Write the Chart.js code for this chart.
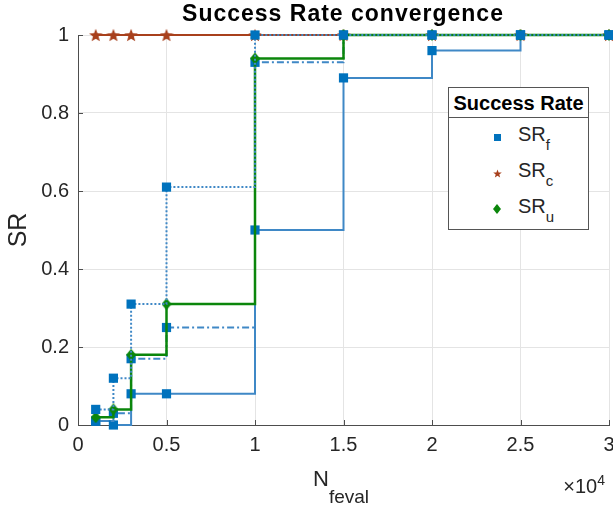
<!DOCTYPE html>
<html>
<head>
<meta charset="utf-8">
<script src="https://cdn.jsdelivr.net/npm/chart.js@4.4.1/dist/chart.umd.min.js"></script>
<style>
  body { margin: 0; background: #fff; }
  #wrap { position: relative; width: 613px; height: 506px; font-family: "Liberation Sans", Arial, sans-serif; color: #262626; }
  #chart { position: absolute; left: 0; top: 0; }
  .txt { position: absolute; white-space: nowrap; line-height: 1; }
  #title { left: 0; width: 686px; top: 2px; text-align: center; font-weight: bold; font-size: 23px; letter-spacing: 1px; color: #000; }
  #xlabel { left: 313px; top: 468px; font-size: 22px; }
  #xlabel sub { font-size: 19px; vertical-align: -17px; }
  #xexp { right: 8px; top: 473px; font-size: 20px; }
  #xexp sup { font-size: 14px; vertical-align: 8px; }
  #legend { position: absolute; left: 448px; top: 87px; width: 141px; height: 143px; box-sizing: border-box; border: 1px solid #555; background: #fff; }
  #legend .head { position: absolute; left: 0; right: 0; top: 0; height: 29px; border-bottom: 1px solid #555; }
  #legend .head span { position: absolute; left: 0; right: 0; top: 5px; text-align: center; font-weight: bold; font-size: 20px; line-height: 20px; color: #000; }
  #legend .mk { position: absolute; }
  #legend .lb { position: absolute; left: 69px; font-size: 20px; line-height: 20px; white-space: nowrap; }
  #legend .lb sub { font-size: 15px; vertical-align: -9px; }
</style>
</head>
<body>
<div id="wrap">
  <canvas id="chart" width="613" height="506"></canvas>
  <div class="txt" id="title">Success Rate convergence</div>
  <div class="txt" id="xlabel">N<sub>feval</sub></div>
  <div class="txt" id="xexp">&times;10<sup>4</sup></div>
  <div id="legend"><div class="head"><span>Success Rate</span></div></div>
</div>
<script>
// function evaluations (x) and success rates
const nFeval = [1000, 2000, 3000, 5000, 10000, 15000, 20000, 25000, 30000];
const srF = [0.01, 0.00, 0.08, 0.08, 0.50, 0.89, 0.96, 1, 1];
const srFDashDot = [0.01, 0.03, 0.17, 0.25, 0.93, 1, 1, 1, 1];
const srFDotted = [0.04, 0.12, 0.31, 0.61, 1, 1, 1, 1, 1];
const srC = [1, 1, 1, 1, 1, 1, 1, 1, 1];
const srU = [0.02, 0.04, 0.18, 0.31, 0.94, 1, 1, 1, 1];
const xTicks = [0, 0.5, 1, 1.5, 2, 2.5, 3]; // in units of 1e4
const yTicks = [0, 0.2, 0.4, 0.6, 0.8, 1];
const legendLabels = [['SR', 'f'], ['SR', 'c'], ['SR', 'u']];

const blue = '#0072bd';
const blueLine = '#3f88c6';
const red = '#a8401c';
const green = '#0b860b';

// small canvases for the star and diamond markers
function markerCanvas(shape, color, w, h) {
    const c = document.createElement('canvas');
    c.width = w; c.height = h;
    const g = c.getContext('2d');
    const cx = w / 2, cy = h / 2;
    g.fillStyle = color;
    g.beginPath();
    if (shape === 'star') {
        const ro = Math.min(w, h) / 2, ri = ro * 0.42;
        for (let i = 0; i < 10; i++) {
            const r = i % 2 ? ri : ro;
            const a = -Math.PI / 2 + i * Math.PI / 5;
            g.lineTo(cx + r * Math.cos(a), cy + r * Math.sin(a) + ro * 0.1);
        }
    } else if (shape === 'diamond') {
        g.moveTo(cx, 0); g.lineTo(w, cy); g.lineTo(cx, h); g.lineTo(0, cy);
    } else {
        g.rect(0, 0, w, h);
    }
    g.closePath();
    g.fill();
    return c;
}

const starPt = markerCanvas('star', red, 14, 14);
const diamondPt = markerCanvas('diamond', green, 10, 12);

function pts(vals) {
    return nFeval.map((x, i) => ({ x: x, y: vals[i] }));
}

function series(vals, color, dash, style, radius, width, order) {
    return {
        data: pts(vals),
        stepped: true,
        clip: false,
        borderColor: color,
        borderWidth: width,
        borderDash: dash,
        pointStyle: style,
        pointRadius: radius,
        pointBackgroundColor: style === 'rect' ? blue : color,
        pointBorderWidth: 0,
        order: order
    };
}

// inward tick marks on left and bottom axes, like the MATLAB figure
const innerTicks = {
    id: 'innerTicks',
    beforeDatasetsDraw(chart) {
        const { ctx, chartArea: a, scales: { x, y } } = chart;
        ctx.save();
        ctx.strokeStyle = '#4d4d4d';
        ctx.lineWidth = 1;
        ctx.beginPath();
        x.ticks.forEach(t => {
            const p = Math.round(x.getPixelForValue(t.value)) + 0.5;
            ctx.moveTo(p, a.bottom); ctx.lineTo(p, a.bottom - 5);
        });
        y.ticks.forEach(t => {
            const p = Math.round(y.getPixelForValue(t.value)) + 0.5;
            ctx.moveTo(a.left, p); ctx.lineTo(a.left + 5, p);
        });
        ctx.stroke();
        ctx.restore();
    }
};

Chart.defaults.font.family = '"Liberation Sans", Arial, sans-serif';
Chart.defaults.color = '#262626';

new Chart(document.getElementById('chart'), {
    type: 'line',
    data: {
        datasets: [
            series(srFDotted, blueLine, [2, 2], 'rect', 6.5, 2, 0),
            series(srU, green, [], diamondPt, 6, 2.5, 1),
            series(srFDashDot, blueLine, [7, 3, 2, 3], 'rect', 6.5, 2, 2),
            series(srF, blueLine, [], 'rect', 6.5, 2, 3),
            series(srC, red, [], starPt, 7, 2, 4)
        ]
    },
    options: {
        responsive: false,
        animation: false,
        layout: { autoPadding: false, padding: { left: 0, right: 4, top: 35, bottom: 0 } },
        plugins: {
            legend: { display: false },
            title: { display: false },
            tooltip: { enabled: false }
        },
        scales: {
            x: {
                type: 'linear',
                min: 0,
                max: 30000,
                afterFit: s => { s.height = 81; s.paddingLeft = 0; s.paddingRight = 0; },
                afterBuildTicks: s => { s.ticks = xTicks.map(v => ({ value: v * 1e4 })); },
                ticks: { callback: v => v / 1e4, font: { size: 20 }, padding: 8, maxRotation: 0 },
                grid: { color: '#e4e4e4', drawTicks: false },
                border: { color: '#4d4d4d' }
            },
            y: {
                min: 0,
                max: 1,
                afterFit: s => { s.width = 78; s.paddingTop = 0; s.paddingBottom = 0; },
                afterBuildTicks: s => { s.ticks = yTicks.map(v => ({ value: v })); },
                ticks: { callback: v => String(+v.toFixed(1)), font: { size: 20 }, padding: 9 },
                grid: { color: '#e4e4e4', drawTicks: false },
                border: { color: '#4d4d4d' },
                title: { display: true, text: 'SR', font: { size: 25 }, padding: { top: 4, bottom: 0 } }
            }
        }
    },
    plugins: [innerTicks]
});

// html legend
const legend = document.getElementById('legend');
const legendMarkers = [
    markerCanvas('square', blue, 7, 7),
    markerCanvas('star', red, 9, 9),
    markerCanvas('diamond', green, 8, 10)
];
legendLabels.forEach((lab, i) => {
    const cy = 49 + i * 36;
    const m = legendMarkers[i];
    m.className = 'mk';
    m.style.left = (48 - m.width / 2) + 'px';
    m.style.top = (cy - m.height / 2) + 'px';
    legend.appendChild(m);
    const d = document.createElement('div');
    d.className = 'lb';
    d.style.top = (cy - 13) + 'px';
    d.innerHTML = lab[0] + '<sub>' + lab[1] + '</sub>';
    legend.appendChild(d);
});
</script>
</body>
</html>
